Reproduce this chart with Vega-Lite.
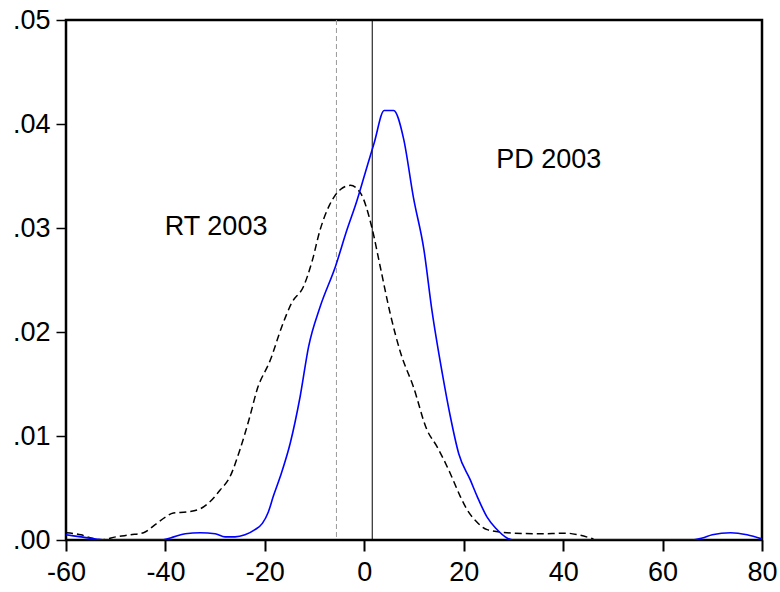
{
  "$schema": "https://vega.github.io/schema/vega-lite/v6.json",
  "width": 696,
  "height": 520,
  "autosize": "none",
  "padding": {"left": 66, "top": 20, "right": 18, "bottom": 52},
  "background": "white",
  "config": {
    "view": {"stroke": "#000", "strokeWidth": 2.5},
    "font": "Liberation Sans",
    "axis": {"grid": false, "domain": false, "tickColor": "#000", "labelColor": "#000", "labelFont": "Liberation Sans", "labelFontSize": 27, "title": null}
  },
  "datasets": {
    "curves": [
      {"series": "PD", "x": -60, "y": 0.0005},
      {"series": "PD", "x": -57, "y": 0.0003},
      {"series": "PD", "x": -54, "y": 0.0001},
      {"series": "PD", "x": -52, "y": 0.0},
      {"series": "PD", "x": -45, "y": 0.0},
      {"series": "PD", "x": -41, "y": 0.0},
      {"series": "PD", "x": -39, "y": 0.0002},
      {"series": "PD", "x": -36, "y": 0.0006},
      {"series": "PD", "x": -33, "y": 0.0007},
      {"series": "PD", "x": -30, "y": 0.0006},
      {"series": "PD", "x": -28, "y": 0.0003},
      {"series": "PD", "x": -26, "y": 0.0003},
      {"series": "PD", "x": -24, "y": 0.0005},
      {"series": "PD", "x": -22, "y": 0.001},
      {"series": "PD", "x": -20.5, "y": 0.0016},
      {"series": "PD", "x": -19.3, "y": 0.0027},
      {"series": "PD", "x": -18.3, "y": 0.0042},
      {"series": "PD", "x": -16.9, "y": 0.0061},
      {"series": "PD", "x": -14.9, "y": 0.0093},
      {"series": "PD", "x": -12.9, "y": 0.0138},
      {"series": "PD", "x": -11.2, "y": 0.0186},
      {"series": "PD", "x": -8.9, "y": 0.0224},
      {"series": "PD", "x": -5.8, "y": 0.0263},
      {"series": "PD", "x": -3.5, "y": 0.0298},
      {"series": "PD", "x": -1.5, "y": 0.0326},
      {"series": "PD", "x": 0, "y": 0.035},
      {"series": "PD", "x": 2, "y": 0.0382},
      {"series": "PD", "x": 4, "y": 0.0413},
      {"series": "PD", "x": 5.9, "y": 0.0413},
      {"series": "PD", "x": 7.9, "y": 0.0386},
      {"series": "PD", "x": 9.9, "y": 0.0329},
      {"series": "PD", "x": 12, "y": 0.0279},
      {"series": "PD", "x": 13.6, "y": 0.0221},
      {"series": "PD", "x": 15.7, "y": 0.016},
      {"series": "PD", "x": 17.3, "y": 0.0119},
      {"series": "PD", "x": 19, "y": 0.0083},
      {"series": "PD", "x": 21.3, "y": 0.0058},
      {"series": "PD", "x": 22.7, "y": 0.0042},
      {"series": "PD", "x": 24.7, "y": 0.0022},
      {"series": "PD", "x": 26.5, "y": 0.0011},
      {"series": "PD", "x": 28.7, "y": 0.0002},
      {"series": "PD", "x": 30, "y": 0.0},
      {"series": "PD", "x": 40, "y": 0.0},
      {"series": "PD", "x": 60, "y": 0.0},
      {"series": "PD", "x": 66, "y": 0.0},
      {"series": "PD", "x": 68, "y": 0.0002},
      {"series": "PD", "x": 70, "y": 0.0005},
      {"series": "PD", "x": 73.7, "y": 0.0007},
      {"series": "PD", "x": 77, "y": 0.0005},
      {"series": "PD", "x": 80, "y": 0.0001},
      {"series": "RT", "x": -60, "y": 0.0007},
      {"series": "RT", "x": -57, "y": 0.0005},
      {"series": "RT", "x": -55, "y": 0.0002},
      {"series": "RT", "x": -53, "y": 0.0},
      {"series": "RT", "x": -50, "y": 0.0003},
      {"series": "RT", "x": -47, "y": 0.0005},
      {"series": "RT", "x": -44.4, "y": 0.0007},
      {"series": "RT", "x": -42, "y": 0.0015},
      {"series": "RT", "x": -40, "y": 0.0022},
      {"series": "RT", "x": -38.4, "y": 0.0026},
      {"series": "RT", "x": -35.7, "y": 0.0027},
      {"series": "RT", "x": -33, "y": 0.003},
      {"series": "RT", "x": -31, "y": 0.0037},
      {"series": "RT", "x": -29, "y": 0.0048},
      {"series": "RT", "x": -27, "y": 0.0061},
      {"series": "RT", "x": -25, "y": 0.0087},
      {"series": "RT", "x": -23, "y": 0.0119},
      {"series": "RT", "x": -21.6, "y": 0.0144},
      {"series": "RT", "x": -18.9, "y": 0.0173},
      {"series": "RT", "x": -16.6, "y": 0.0205},
      {"series": "RT", "x": -14.6, "y": 0.0228},
      {"series": "RT", "x": -12.2, "y": 0.0244},
      {"series": "RT", "x": -10.5, "y": 0.0268},
      {"series": "RT", "x": -8.9, "y": 0.0298},
      {"series": "RT", "x": -7, "y": 0.0322},
      {"series": "RT", "x": -4.8, "y": 0.0337},
      {"series": "RT", "x": -2.8, "y": 0.0341},
      {"series": "RT", "x": -0.8, "y": 0.0334},
      {"series": "RT", "x": 1.5, "y": 0.0301},
      {"series": "RT", "x": 3.2, "y": 0.0263},
      {"series": "RT", "x": 5.2, "y": 0.0218},
      {"series": "RT", "x": 7.3, "y": 0.018},
      {"series": "RT", "x": 9.9, "y": 0.0147},
      {"series": "RT", "x": 12.6, "y": 0.0106},
      {"series": "RT", "x": 14.6, "y": 0.009},
      {"series": "RT", "x": 17.3, "y": 0.0064},
      {"series": "RT", "x": 19.3, "y": 0.0042},
      {"series": "RT", "x": 20.7, "y": 0.0029},
      {"series": "RT", "x": 22.5, "y": 0.0018},
      {"series": "RT", "x": 24.7, "y": 0.001},
      {"series": "RT", "x": 28.7, "y": 0.0007},
      {"series": "RT", "x": 35, "y": 0.0006},
      {"series": "RT", "x": 40.8, "y": 0.00065},
      {"series": "RT", "x": 43, "y": 0.0005},
      {"series": "RT", "x": 46.1, "y": 0.0001}
    ],
    "labels": [
      {"x": -29.8, "y": 0.0301, "text": "RT 2003"},
      {"x": 37.1, "y": 0.0365, "text": "PD 2003"}
    ]
  },
  "layer": [
    {
      "data": {"values": [{"x": -5.6}]},
      "mark": {"type": "rule", "color": "#999999", "strokeWidth": 1, "strokeDash": [5, 3]},
      "encoding": {"x": {"field": "x", "type": "quantitative", "scale": {"domain": [-60, 80]}}}
    },
    {
      "data": {"values": [{"x": 1.6}]},
      "mark": {"type": "rule", "color": "#000000", "strokeWidth": 1},
      "encoding": {"x": {"field": "x", "type": "quantitative"}}
    },
    {
      "data": {"name": "curves"},
      "transform": [{"filter": "datum.series == 'RT'"}],
      "mark": {"type": "line", "color": "#000000", "strokeWidth": 1.5, "strokeDash": [7, 4], "interpolate": "monotone", "clip": true},
      "encoding": {
        "x": {"field": "x", "type": "quantitative"},
        "y": {"field": "y", "type": "quantitative"}
      }
    },
    {
      "data": {"name": "curves"},
      "transform": [{"filter": "datum.series == 'PD'"}],
      "mark": {"type": "line", "color": "#0000ff", "strokeWidth": 1.6, "interpolate": "monotone", "clip": true},
      "encoding": {
        "x": {"field": "x", "type": "quantitative", "scale": {"domain": [-60, 80], "nice": false, "zero": false},
          "axis": {"values": [-60, -40, -20, 0, 20, 40, 60, 80], "tickSize": 11, "tickWidth": 2, "labelPadding": 8, "labelFlush": false, "labelExpr": "'' + datum.value"}},
        "y": {"field": "y", "type": "quantitative", "scale": {"domain": [0, 0.05], "nice": false},
          "axis": {"values": [0, 0.01, 0.02, 0.03, 0.04, 0.05], "tickSize": 10, "tickWidth": 1.5, "labelPadding": 6, "labelExpr": "substring(format(datum.value, '.2f'), 1)", "labelFlush": false}}
      }
    },
    {
      "data": {"name": "labels"},
      "mark": {"type": "text", "font": "Liberation Sans", "fontSize": 27, "color": "#000", "align": "center", "baseline": "middle"},
      "encoding": {
        "x": {"field": "x", "type": "quantitative"},
        "y": {"field": "y", "type": "quantitative"},
        "text": {"field": "text"}
      }
    }
  ]
}
